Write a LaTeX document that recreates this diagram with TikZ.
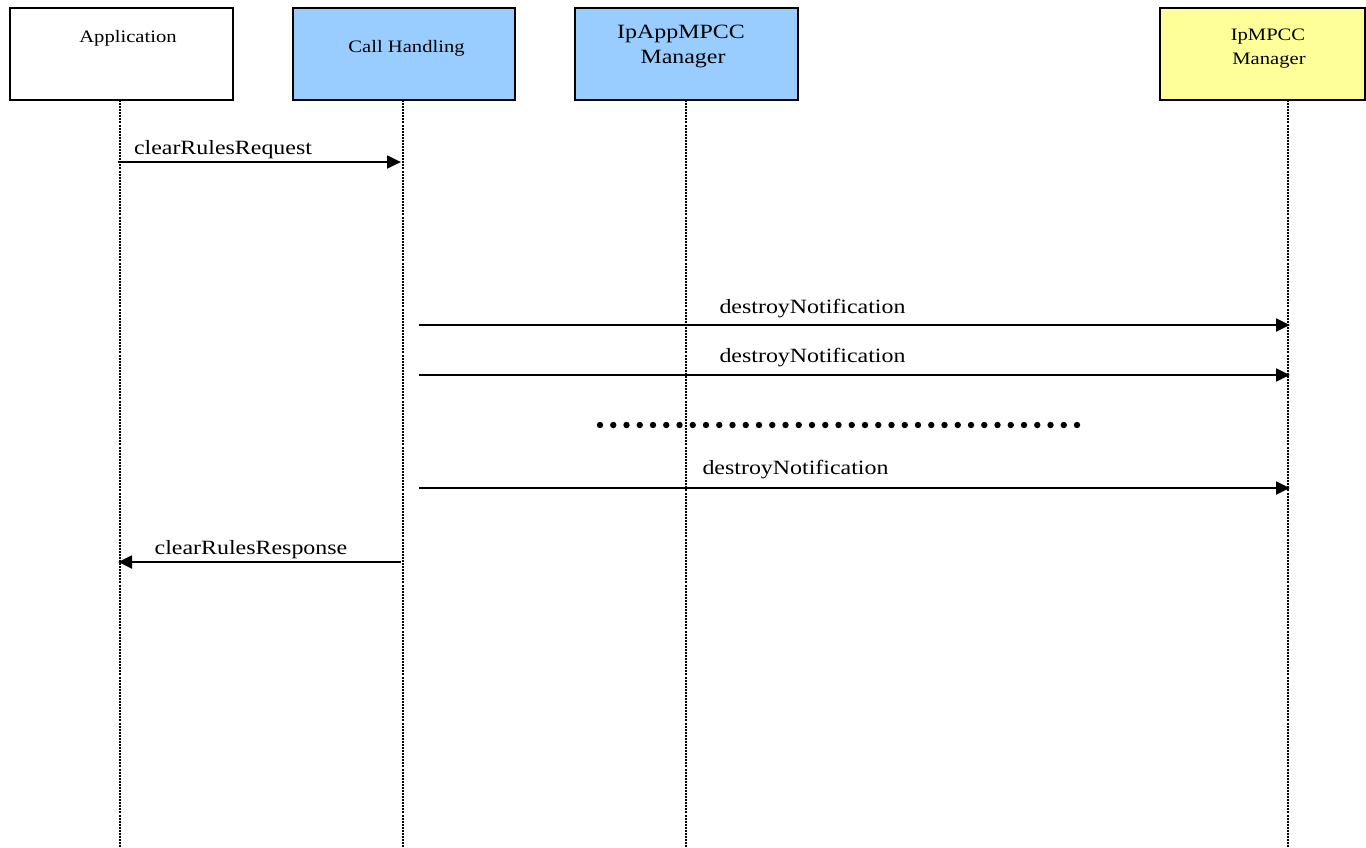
\documentclass[tikz,border=0pt]{standalone}
\usepackage{fontspec}
\setmainfont{Liberation Serif}[FakeStretch=1.18]
\usetikzlibrary{arrows.meta}
\definecolor{boxblue}{HTML}{99CCFF}
\definecolor{boxyellow}{HTML}{FFFF99}
\begin{document}
\begin{tikzpicture}[x=0.75pt,y=-0.75pt,
  obj/.style={draw=black,line width=1pt,inner sep=0pt,outer sep=0pt,minimum height=69pt},
  smalltxt/.style={inner sep=0pt,anchor=base,font=\fontsize{13.1}{18}\selectfont},
  bigtxt/.style={inner sep=0pt,anchor=base,font=\fontsize{15.2}{18.75}\selectfont},
  msgtxt/.style={inner sep=0pt,anchor=base,font=\fontsize{15.2}{17}\selectfont},
  life/.style={line width=1.2pt,dash pattern=on 1.5pt off 0.8pt},
  msg/.style={line width=2.1pt,-{Triangle[length=10.5pt,width=9.5pt]}}]
\useasboundingbox (0,0) rectangle (1366,847);
% boxes
\node[obj,fill=white,minimum width=167.25pt] (app) at (121.5,54) {};
\node[obj,fill=boxblue,minimum width=166.5pt] (ch) at (404,54) {};
\node[obj,fill=boxblue,minimum width=167.25pt] (iam) at (686.5,54) {};
\node[obj,fill=boxyellow,minimum width=153.75pt] (ipm) at (1262.5,54) {};
% box texts
\node[smalltxt] (appT) at (128,42) {Application};
\node[smalltxt] (chT) at (406.5,52) {Call Handling};
\node[bigtxt] (iamT1) at (681,38) {IpAppMPCC};
\node[bigtxt] (iamT2) at (683,63) {Manager};
\node[smalltxt] (ipmT1) at (1268,40) {IpMPCC};
\node[smalltxt] (ipmT2) at (1269,64) {Manager};
% lifelines
\coordinate (appA) at (120,100);  \coordinate (appB) at (120,847);
\coordinate (chA) at (403,100);   \coordinate (chB) at (403,847);
\coordinate (iamA) at (686,100);  \coordinate (iamB) at (686,847);
\coordinate (ipmA) at (1288,100); \coordinate (ipmB) at (1288,847);
\draw[life] (appA) -- (appB);
\draw[life] (chA) -- (chB);
\draw[life] (iamA) -- (iamB);
\draw[life] (ipmA) -- (ipmB);
% messages
\coordinate (m1s) at (118,162);  \coordinate (m1e) at (401,162);
\coordinate (m2s) at (419,325);  \coordinate (m2e) at (1290,325);
\coordinate (m3s) at (419,375);  \coordinate (m3e) at (1290,375);
\coordinate (m4s) at (419,488);  \coordinate (m4e) at (1290,488);
\coordinate (m5s) at (401,562);  \coordinate (m5e) at (118,562);
\draw[msg] (m1s) -- (m1e);
\draw[msg] (m2s) -- (m2e);
\draw[msg] (m3s) -- (m3e);
\draw[msg] (m4s) -- (m4e);
\draw[msg] (m5s) -- (m5e);
\node[msgtxt] (l1) at (223,154) {clearRulesRequest};
\node[msgtxt] (l2) at (812.5,313) {destroyNotification};
\node[msgtxt] (l3) at (812.5,362) {destroyNotification};
\node[msgtxt] (l4) at (795.5,474) {destroyNotification};
\node[msgtxt] (l5) at (251,554) {clearRulesResponse};
% ellipsis dots
\foreach \i in {0,...,36} {
  \fill[black] ({600+\i*13.25},425) circle (2.4pt);
}
\end{tikzpicture}
\end{document}
